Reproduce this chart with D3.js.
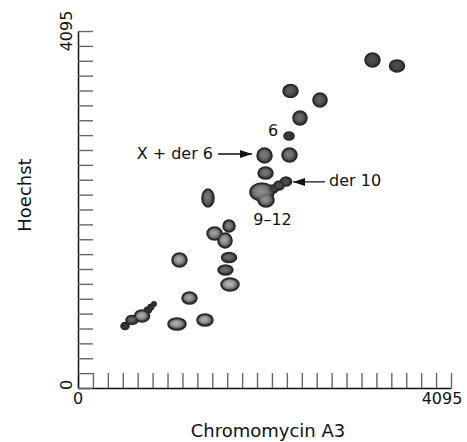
<!DOCTYPE html>
<html>
<head>
<meta charset="utf-8">
<script src="https://cdn.jsdelivr.net/npm/d3@7"></script>
<style>
  html, body { margin: 0; padding: 0; background: #fff; }
  svg { display: block; }
</style>
</head>
<body>
<svg id="chart" width="467" height="442"></svg>
<script>
// ---- data (fluorescence channels, 0–4095) ----
const axisMax = 4095;
const xTickLabels = ["0", "4095"];
const yTickLabels = ["0", "4095"];
const xTitle = "Chromomycin A3";
const yTitle = "Hoechst";

// chromosome spots: centre (Chromomycin A3, Hoechst) and half-spread in channels
const spotIds     = ["1","2","3","4","5","6","X+der6","7","8","der10a","der10b","9-12a","9-12b","9-12c","13","14a","14b","14c","15","16","17","18","19","20a","20b","20c","20d","20e","20f","21","22"];
const chromomycin = [3233,3502,2333,2657,2437,2317,2048,2322,2059,2207,2284,2020,2064,2141,1427,1499,1658,1614,1114,1658,1619,1669,1224,703,593,516,768,801,834,1087,1394];
const hoechst     = [3762,3694,3407,3304,3097,2891,2667,2673,2466,2323,2369,2248,2157,2283,2179,1772,1858,1692,1468,1497,1354,1187,1032,826,780,711,895,929,963,734,780];
const spreadCA3   = [82,82,82,77,77,55,82,82,82,55,60,132,88,55,66,82,66,77,82,82,82,99,82,82,66,44,38,30,24,99,88];
const spreadHo    = [80,69,75,80,80,46,86,80,69,52,52,103,80,46,103,75,69,86,80,57,57,75,69,69,52,40,34,30,26,69,69];

// annotations: text and the spot they point to
const annotText = ["X + der 6", "6", "der 10", "9–12"];
const annotSpot = ["X+der6", "6", "der10b", "9-12a"];

// ---- drawing ----
const svg = d3.select("#chart");
const x = d3.scaleLinear().domain([0, axisMax]).range([78, 451]);
const y = d3.scaleLinear().domain([0, axisMax]).range([388, 31]);
const font = "'DejaVu Sans', 'Liberation Sans', sans-serif";

const spots = spotIds.map((id, i) => ({
  id, cx: chromomycin[i], cy: hoechst[i], sx: spreadCA3[i], sy: spreadHo[i]
}));

// axes: inward ticks, no labels
const xTicks = d3.range(0, 26).map(i => i * axisMax / 25);
const yTicks = d3.range(0, 25).map(i => i * axisMax / 24);

const gx = svg.append("g").attr("transform", `translate(0,${y(0)})`)
  .call(d3.axisBottom(x).tickValues(xTicks).tickSize(-15).tickSizeOuter(0).tickFormat(""));
const gy = svg.append("g").attr("transform", `translate(${x(0)},0)`)
  .call(d3.axisLeft(y).tickValues(yTicks).tickSize(-15).tickSizeOuter(0).tickFormat(""));
[gx, gy].forEach(g => {
  g.select(".domain").attr("stroke", "#111").attr("stroke-width", 1.5);
  g.selectAll(".tick line").attr("stroke", "#666").attr("stroke-width", 1.4);
});

// axis labels
svg.append("text").attr("x", x(0)).attr("y", 404).attr("text-anchor", "middle")
  .attr("font-family", font).attr("font-size", 16).attr("fill", "#111").text(xTickLabels[0]);
svg.append("text").attr("x", x(axisMax) - 9).attr("y", 404).attr("text-anchor", "middle")
  .attr("font-family", font).attr("font-size", 16).attr("fill", "#111").text(xTickLabels[1]);
svg.append("text").attr("x", 268).attr("y", 437).attr("text-anchor", "middle")
  .attr("font-family", font).attr("font-size", 18).attr("fill", "#111").text(xTitle);

svg.append("text").attr("transform", `translate(72,${y(0) - 3}) rotate(-90)`).attr("text-anchor", "middle")
  .attr("font-family", font).attr("font-size", 16).attr("fill", "#111").text(yTickLabels[0]);
svg.append("text").attr("transform", `translate(72,${y(axisMax)}) rotate(-90)`).attr("text-anchor", "middle")
  .attr("font-family", font).attr("font-size", 16).attr("fill", "#111").text(yTickLabels[1]);
svg.append("text").attr("transform", `translate(31,195) rotate(-90)`).attr("text-anchor", "middle")
  .attr("font-family", font).attr("font-size", 18).attr("fill", "#111").text(yTitle);

// spots
const defs = svg.append("defs");
defs.append("filter").attr("id", "soft").attr("x", "-20%").attr("y", "-20%").attr("width", "140%").attr("height", "140%")
  .append("feGaussianBlur").attr("stdDeviation", 0.55);

const lightness = d3.scaleLinear().domain([800, 3800]).range(["#cfcfcf", "#4e4e4e"]).clamp(true);
const sizeMix = d3.scaleLinear().domain([40, 75]).range([0, 1]).clamp(true);
const dark = "#333";

spots.forEach((s, i) => {
  const centre = d3.interpolate(dark, lightness(s.cy))(sizeMix(Math.min(s.sx, s.sy)));
  const g = defs.append("radialGradient").attr("id", "sg" + i).attr("cx", "45%").attr("cy", "45%").attr("r", "55%");
  g.append("stop").attr("offset", "0%").attr("stop-color", centre);
  g.append("stop").attr("offset", "55%").attr("stop-color", d3.interpolate(centre, dark)(0.25));
  g.append("stop").attr("offset", "100%").attr("stop-color", d3.interpolate(centre, dark)(0.75));
});

const rx = d => x(d.sx) - x(0);
const ry = d => y(0) - y(d.sy);

const spotLayer = svg.append("g").attr("filter", "url(#soft)");
spotLayer.append("g").selectAll("ellipse").data(spots).join("ellipse")
  .attr("cx", d => x(d.cx)).attr("cy", d => y(d.cy))
  .attr("rx", rx).attr("ry", ry)
  .attr("fill", "#2c2c2c").attr("stroke", "#2c2c2c").attr("stroke-width", 1.6);
spotLayer.append("g").selectAll("ellipse").data(spots).join("ellipse")
  .attr("cx", d => x(d.cx)).attr("cy", d => y(d.cy))
  .attr("rx", d => Math.max(0.5, rx(d) - 1.3)).attr("ry", d => Math.max(0.5, ry(d) - 1.3))
  .attr("fill", (d, i) => `url(#sg${i})`);

// annotations
defs.append("marker").attr("id", "arrow").attr("viewBox", "0 0 12 8")
  .attr("refX", 12).attr("refY", 4).attr("markerWidth", 12).attr("markerHeight", 8)
  .attr("markerUnits", "userSpaceOnUse").attr("orient", "auto")
  .append("path").attr("d", "M0,0 L12,4 L0,8 Z").attr("fill", "#111");

const spotById = id => spots.find(s => s.id === id);
const ann = svg.append("g").attr("font-family", font).attr("font-size", 16).attr("fill", "#111");

// X + der 6  (arrow pointing right)
{
  const s = spotById(annotSpot[0]);
  const px = x(s.cx), py = y(s.cy);
  const tip = px - 12.5, yy = py - 1.5;
  ann.append("line").attr("x1", tip - 34).attr("y1", yy).attr("x2", tip).attr("y2", yy)
    .attr("stroke", "#111").attr("stroke-width", 1.3).attr("marker-end", "url(#arrow)");
  ann.append("text").attr("x", tip - 39).attr("y", py + 4).attr("text-anchor", "end").text(annotText[0]);
}
// 6
{
  const s = spotById(annotSpot[1]);
  ann.append("text").attr("x", x(s.cx) - 16).attr("y", y(s.cy)).attr("text-anchor", "middle").text(annotText[1]);
}
// der 10 (arrow pointing left)
{
  const s = spotById(annotSpot[2]);
  const px = x(s.cx), py = y(s.cy);
  const tip = px + 7, yy = py + 0.5;
  ann.append("line").attr("x1", tip + 32).attr("y1", yy).attr("x2", tip).attr("y2", yy)
    .attr("stroke", "#111").attr("stroke-width", 1.3).attr("marker-end", "url(#arrow)");
  ann.append("text").attr("x", tip + 36).attr("y", py + 4.5).attr("text-anchor", "start").text(annotText[2]);
}
// 9–12
{
  const s = spotById(annotSpot[3]);
  ann.append("text").attr("x", x(s.cx) + 10.5).attr("y", y(s.cy) + 33).attr("text-anchor", "middle").text(annotText[3]);
}
</script>
</body>
</html>
